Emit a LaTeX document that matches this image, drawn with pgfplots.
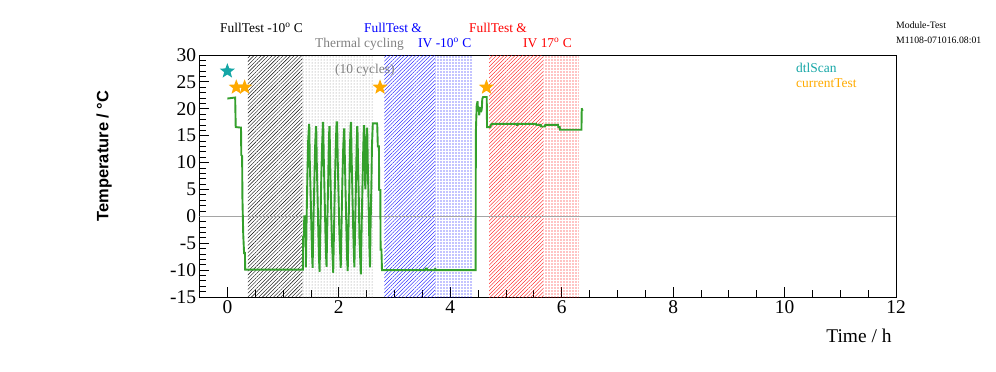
\documentclass[border=0pt]{standalone}
\usepackage{fontspec}
\setmainfont{Liberation Serif}
\newfontfamily\sansfont{Liberation Sans}
\usepackage{pgfplots}
\pgfplotsset{compat=1.18}
\usetikzlibrary{patterns.meta}
\definecolor{lgreen}{RGB}{52,160,44}
\definecolor{teal2}{RGB}{20,166,166}
\definecolor{orange2}{RGB}{255,170,0}
\definecolor{zgrey}{RGB}{165,165,165}
\pgfdeclareplotmark{fstar}{%
\pgfpathmoveto{\pgfpointpolar{90}{\pgfplotmarksize}}%
\pgfpathlineto{\pgfpointpolar{126}{0.42*\pgfplotmarksize}}%
\pgfpathlineto{\pgfpointpolar{162}{\pgfplotmarksize}}%
\pgfpathlineto{\pgfpointpolar{198}{0.42*\pgfplotmarksize}}%
\pgfpathlineto{\pgfpointpolar{234}{\pgfplotmarksize}}%
\pgfpathlineto{\pgfpointpolar{270}{0.42*\pgfplotmarksize}}%
\pgfpathlineto{\pgfpointpolar{306}{\pgfplotmarksize}}%
\pgfpathlineto{\pgfpointpolar{342}{0.42*\pgfplotmarksize}}%
\pgfpathlineto{\pgfpointpolar{18}{\pgfplotmarksize}}%
\pgfpathlineto{\pgfpointpolar{54}{0.42*\pgfplotmarksize}}%
\pgfpathclose\pgfusepathqfill}
\begin{document}
\begin{tikzpicture}
\useasboundingbox (-199.5bp,-75bp) rectangle (796.5bp,297bp);
\begin{axis}[
  at={(0,0)}, anchor=south west, scale only axis,
  width=696.5bp, height=242bp,
  xmin=-0.5, xmax=12, ymin=-15, ymax=30,
  xtick={0,2,4,6,8,10,12}, xticklabels={0,2,4,6,8,10,12},
  ytick={-15,-10,-5,0,5,10,15,20,25,30},
  yticklabels={-15,-10,-5,0,5,10,15,20,25,30},
  minor x tick num=3, minor y tick num=4,
  xtick pos=bottom, ytick pos=left, tick align=inside,
  major tick length=10bp, minor tick length=7bp,
  axis line style={line width=0.9bp},
  every tick/.style={black, line width=0.8bp},
  tick label style={font=\fontsize{19.5}{20}\selectfont},
  xlabel={Time / h},
  ylabel={\sansfont\bfseries Temperature / °C},
  every axis x label/.style={at={(axis description cs:0.9986,-0.186)}, anchor=base east, font=\fontsize{19.5}{20}\selectfont},
  every axis y label/.style={at={(axis description cs:-0.137,0.583)}, anchor=center, rotate=90, font=\fontsize{16.5}{18}\selectfont},
]
% shaded periods
\addplot[draw=none, pattern={Lines[angle=45,distance=2.6bp,line width=0.4bp]}, pattern color=black]
  coordinates {(0.37,-15) (1.35,-15) (1.35,30) (0.37,30) (0.37,-15)};
\addplot[draw=none, pattern={Dots[distance=3bp,radius=0.5bp]}, pattern color=gray]
  coordinates {(1.35,-15) (2.62,-15) (2.62,30) (1.35,30) (1.35,-15)};
\addplot[draw=none, pattern={Lines[angle=45,distance=2.6bp,line width=0.35bp]}, pattern color=blue]
  coordinates {(2.82,-15) (3.73,-15) (3.73,30) (2.82,30) (2.82,-15)};
\addplot[draw=none, pattern={Dots[distance=3bp,radius=0.55bp]}, pattern color=blue]
  coordinates {(3.73,-15) (4.41,-15) (4.41,30) (3.73,30) (3.73,-15)};
\addplot[draw=none, pattern={Lines[angle=45,distance=2.6bp,line width=0.35bp]}, pattern color=red]
  coordinates {(4.70,-15) (5.67,-15) (5.67,30) (4.70,30) (4.70,-15)};
\addplot[draw=none, pattern={Dots[distance=3bp,radius=0.55bp]}, pattern color=red]
  coordinates {(5.67,-15) (6.31,-15) (6.31,30) (5.67,30) (5.67,-15)};
% zero line
\addplot[zgrey, line width=0.8bp] coordinates {(-0.5,0) (12,0)};
% temperature
\addplot[lgreen, line width=1.9bp, line join=miter, miter limit=2] coordinates {
(0.00,21.9) (0.14,22.1) (0.15,16.6) (0.245,16.5) (0.25,11.4) (0.265,11.2) (0.27,3.6) (0.285,-3.4) (0.30,-6.8) (0.315,-6.8) (0.32,-9.9) (1.355,-9.9)
(1.36,-3.8) (1.375,-3.8) (1.38,0) (1.40,0) (1.41,-9.5) (1.42,-2) (1.435,7) (1.45,14) (1.465,17.0) (1.47,17.0) (1.48,10) (1.495,4) (1.51,-3) (1.52,-7) (1.53,-9.6)
(1.545,-1) (1.56,6) (1.575,13) (1.59,16.6) (1.595,16.6) (1.605,10) (1.62,3) (1.635,-4) (1.645,-8) (1.655,-10.3)
(1.67,-2) (1.685,7) (1.70,13) (1.715,17.4) (1.72,17.4) (1.73,11) (1.745,4) (1.76,-3) (1.77,-7) (1.78,-9.4)
(1.795,-1) (1.81,7) (1.82,13) (1.83,16.6) (1.835,16.6) (1.845,10) (1.86,3) (1.875,-4) (1.89,-8) (1.90,-10.5)
(1.915,-2) (1.93,6) (1.945,13) (1.96,17.5) (1.97,17.5) (1.98,11) (1.995,4) (2.01,-3) (2.025,-7) (2.035,-9.6)
(2.05,-1) (2.065,7) (2.08,13) (2.095,16.2) (2.10,16.2) (2.11,10) (2.125,3) (2.14,-4) (2.15,-8) (2.16,-10.2)
(2.175,-2) (2.19,6) (2.20,13) (2.215,17.4) (2.22,17.4) (2.23,11) (2.245,4) (2.26,-3) (2.27,-7) (2.28,-9.5)
(2.295,-1) (2.31,7) (2.32,13) (2.33,16.6) (2.335,16.6) (2.345,10) (2.36,3) (2.37,-4) (2.385,-8) (2.395,-10.8)
(2.41,-2) (2.425,6) (2.44,13) (2.45,16.8) (2.455,16.8) (2.465,11) (2.475,5) (2.485,8) (2.495,13) (2.505,16.3) (2.51,16.3) (2.52,10) (2.535,2) (2.55,-6) (2.56,-9.5)
(2.57,-2) (2.585,6) (2.595,13) (2.61,17.3) (2.685,17.3) (2.69,17.0) (2.70,13) (2.72,13) (2.725,4.9) (2.745,4.9) (2.75,-6.2) (2.765,-6.2) (2.775,-10.0)
(3.55,-10.0) (3.56,-9.7) (3.58,-9.7) (3.59,-10.0) (3.72,-10.0) (3.73,-9.8) (3.75,-10.0) (4.455,-10.0)
(4.46,15.8) (4.475,20.6) (4.49,21.4) (4.50,19.5) (4.51,20.4) (4.52,18.8) (4.535,20.3) (4.55,19.4) (4.565,19.8) (4.575,21.8) (4.59,22.2) (4.655,22.2) (4.66,16.6) (4.72,16.6) (4.73,17.0) (4.745,17.2)
(5.19,17.2) (5.20,16.9) (5.21,17.2) (5.54,17.2) (5.545,17.0) (5.625,17.0) (5.63,16.7) (5.70,16.7) (5.705,17.0) (5.935,17.0) (5.94,16.6) (5.965,16.6) (5.97,16.1) (6.355,16.1) (6.36,20.1) (6.375,19.6)
};
% markers
\addplot[only marks, mark=fstar, mark size=8bp, color=teal2] coordinates {(0.0,27.0)};
\addplot[only marks, mark=fstar, mark size=8bp, color=orange2] coordinates {(0.16,24.0) (0.31,24.0) (2.74,24.0) (4.65,24.0)};
\end{axis}
\begin{scope}[every node/.style={inner sep=0pt, anchor=base west, font=\fontsize{13.5}{16}\selectfont}]
\node at (20.5bp,264bp) {FullTest -10\textsuperscript{o} C};
\node[text=gray] at (115.5bp,249bp) {Thermal cycling};
\node[text=gray] at (135.5bp,223bp) {(10 cycles)};
\node[text=blue] at (164.5bp,264bp) {FullTest \&};
\node[text=blue] at (218.5bp,249bp) {IV -10\textsuperscript{o} C};
\node[text=red] at (269.5bp,264bp) {FullTest \&};
\node[text=red] at (323.5bp,249bp) {IV 17\textsuperscript{o} C};
\node[text=teal2] at (596.5bp,224bp) {dtlScan};
\node[text=orange2] at (596.5bp,209bp) {currentTest};
\node[font=\fontsize{9.8}{11}\selectfont] at (696.5bp,268bp) {Module-Test};
\node[font=\fontsize{9.8}{11}\selectfont] at (696.5bp,253bp) {M1108-071016.08:01};
\end{scope}
\end{tikzpicture}
\end{document}
